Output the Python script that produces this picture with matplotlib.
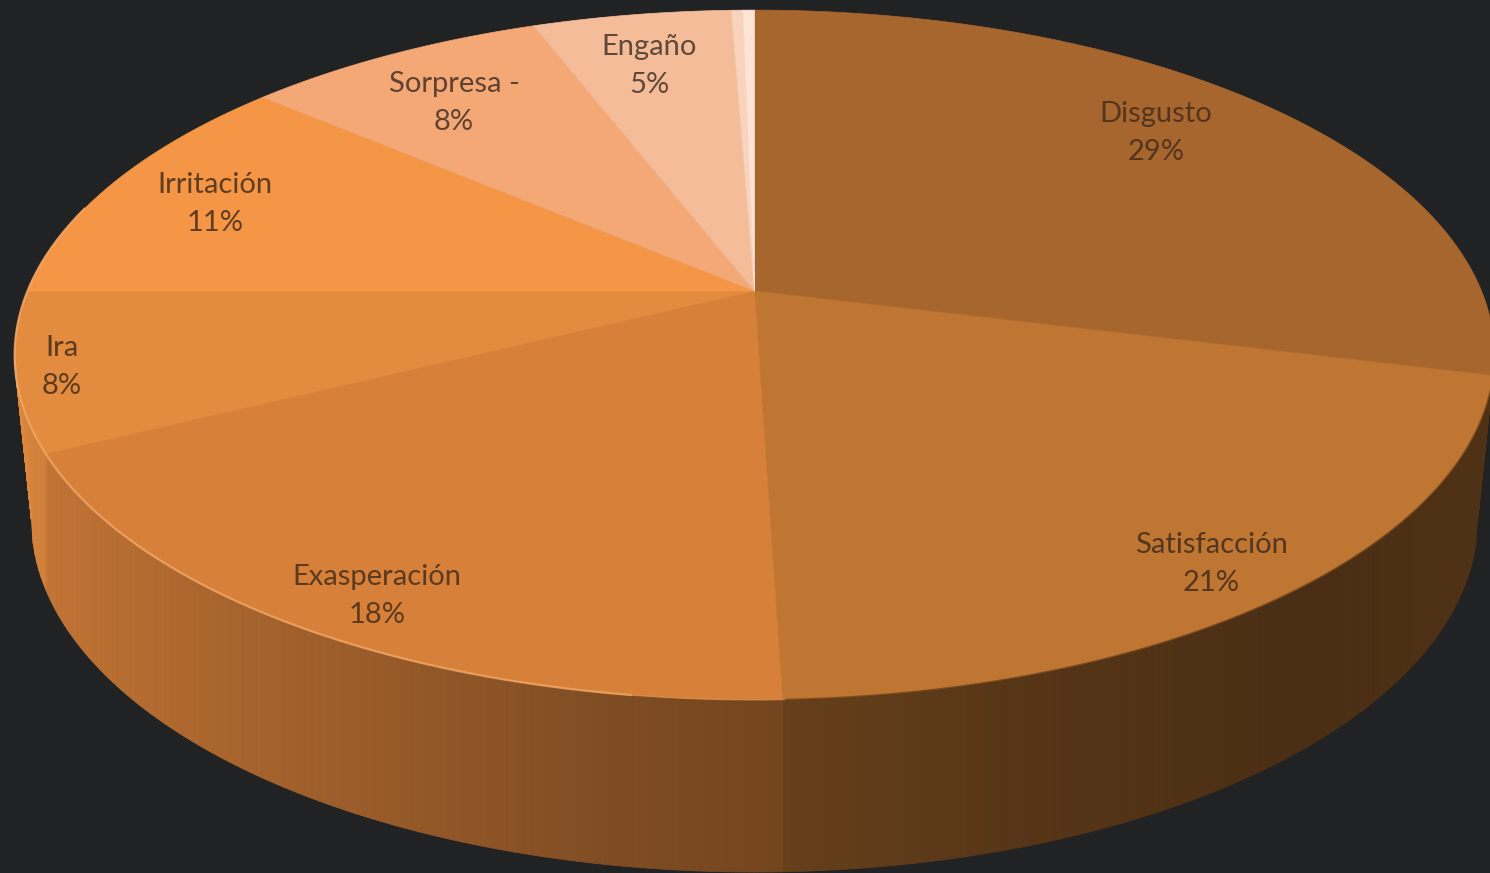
#!/usr/bin/env python
# coding: utf-8
import numpy as np
import matplotlib
matplotlib.use('Agg')
import matplotlib.pyplot as plt
from matplotlib.collections import PolyCollection

categories = ['Disgusto', 'Satisfacción', 'Exasperación', 'Ira', 'Irritación',
              'Sorpresa -', 'Engaño', '', '']
values = [28.9, 20.6, 18.1, 7.4, 11.3, 7.9, 5.2, 0.3, 0.3]
percent_labels = ['29%', '21%', '18%', '8%', '11%', '8%', '5%', '', '']
colors = ['#A7662D', '#BE7632', '#D6803A', '#E38C40', '#F49646',
          '#F3A876', '#F5BC9A', '#F9D3BC', '#FCE4D6']
text_colors = ['#54351E', '#54351E', '#5C3A1E', '#5C3A1E', '#603D22',
               '#604230', '#60483A', '#000000', '#000000']

# label centres in pixels
label_x = [1156, 1211, 377, 62, 215, 454, 649]
label_y = [133, 564, 596, 367, 204, 103, 66]

BG = '#212223'
K = 0.1855  # perspective of the tilted disc
CX = 754.5


def top(theta):
    # theta in radians clockwise from the top, disc centre lands on the apex
    u, v = np.sin(theta), np.cos(theta)
    w = 1 + K * v
    return CX + 727 * u / w, 291 - 333 * v / w


def bottom_below(x):
    # lower rim of the wall, straight below a point of the top rim
    x = np.clip(x, CX - 723, CX + 723)
    return x, 520 + 352 * np.sqrt(np.clip(1 - ((x - CX) / 723) ** 2, 0, 1))


def side_shade(x):
    return np.interp(x, [15, 60, 200, 400, 600, 780, 1000, 1300, 1490],
                     [.97, .90, .80, .70, .60, .54, .46, .39, .42])


def main():
    fig = plt.figure(figsize=(14.9, 8.73), dpi=100, facecolor=BG)
    ax = fig.add_axes([0, 0, 1, 1])
    ax.set_xlim(0, 1490)
    ax.set_ylim(873, 0)
    ax.axis('off')

    vals = np.array(values)
    edges = np.concatenate([[0], np.cumsum(vals)]) / vals.sum() * 2 * np.pi

    # side wall first, only the front half of the rim
    polys, cols = [], []
    for i, c in enumerate(colors):
        n = max(int((edges[i + 1] - edges[i]) / np.radians(0.6)), 1)
        t = np.linspace(edges[i], edges[i + 1], n + 1)
        xt, yt = top(t)
        xb, yb = bottom_below(xt)
        base = np.array(matplotlib.colors.to_rgb(c))
        for j in range(n):
            if max(yt[j], yt[j + 1]) < 355:
                continue
            polys.append([(xt[j], yt[j]), (xt[j + 1], yt[j + 1]),
                          (xb[j + 1], yb[j + 1]), (xb[j], yb[j])])
            cols.append(np.clip(base * side_shade((xt[j] + xt[j + 1]) / 2), 0, 1))
    ax.add_collection(PolyCollection(polys, facecolors=cols, edgecolors=cols, linewidths=0.6))

    # top of the pie
    for i, c in enumerate(colors):
        t = np.linspace(edges[i], edges[i + 1], 200)
        xt, yt = top(t)
        ax.fill(np.r_[CX, xt], np.r_[291, yt], facecolor=c, edgecolor=c, linewidth=0.5)

    # light rim on the front left, darker on the front right
    t = np.radians(np.linspace(188, 285, 200))
    ax.plot(*top(t), color='#F2A868', lw=1.6, alpha=0.8)
    t = np.radians(np.linspace(178, 188, 50))
    ax.plot(*top(t), color='#F2A868', lw=1.2, alpha=0.3)
    t = np.radians(np.linspace(105, 178, 200))
    ax.plot(*top(t), color='#5A3414', lw=1.2, alpha=0.6)

    for i in range(len(label_x)):
        ax.text(label_x[i], label_y[i], categories[i] + '\n' + percent_labels[i],
                ha='center', va='center', family='Lato', fontsize=21,
                linespacing=1.58, color=text_colors[i])

    fig.savefig('out.png', dpi=100, facecolor=BG)


if __name__ == '__main__':
    main()
